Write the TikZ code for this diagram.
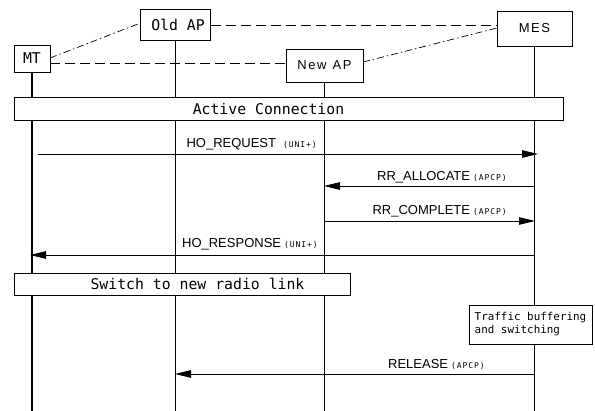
\documentclass[tikz,border=0pt]{standalone}
\usepackage{fontspec}
\newfontfamily\monof{DejaVu Sans Mono}
\newfontfamily\smallf{DejaVu Sans Mono}[LetterSpace=12]
\newfontfamily\helf{Liberation Sans}
\newfontfamily\helsp{Liberation Sans}[LetterSpace=12]
\usetikzlibrary{arrows.meta}
\newcommand{\bigmono}{\monof\fontsize{14.8}{16}\selectfont}
\newcommand{\helv}{\helf\fontsize{13}{15}\selectfont}
\newcommand{\helvsp}{\helsp\fontsize{13}{15}\selectfont}
\newcommand{\smallmono}{\smallf\fontsize{8}{9}\selectfont}
\begin{document}
\begin{tikzpicture}[x=1pt,y=-1pt,
  ent/.style={draw, line width=0.8pt, fill=white, inner sep=0pt, font=\bigmono},
  entsans/.style={ent, font=\helvsp},
  lifeline/.style={line width=1.4pt},
  band/.style={draw, fill=white, line width=0.8pt, inner sep=0pt, font=\bigmono},
  msg/.style={line width=0.8pt, -{Triangle[length=16pt,width=7.5pt]}},
  lbl/.style={anchor=base east, inner sep=0pt, font=\helv},
  dashl/.style={line width=0.7pt, dash pattern=on 10pt off 5pt},
  dashdot/.style={line width=0.7pt, dash pattern=on 7pt off 3pt on 1.5pt off 3pt}
]
\useasboundingbox (0,0) rectangle (595,411);
\coordinate (bot) at (0,411);

% entities
\node[ent, minimum width=36pt, minimum height=27pt] (mt) at (32,58.5) {MT};
\node[ent, minimum width=70pt, minimum height=31pt] (oap) at (175.5,24.5) {\hspace{5pt}Old AP};
\node[entsans, minimum width=77pt, minimum height=33pt] (nap) at (324.5,65.5) {New\hspace{6pt}AP};
\node[entsans, minimum width=75pt, minimum height=35pt] (mes) at (534.5,28.5) {MES};

% lifelines
\draw[lifeline] (mt.south) -- (mt.south |- bot);
\draw[lifeline] (oap.south) -- (oap.south |- bot);
\draw[lifeline] (nap.south) -- (nap.south |- bot);
\draw[lifeline] (mes.south) -- (mes.south |- bot);

% links between entities
\coordinate (mtr1) at (50,58);
\coordinate (oapl) at (140.5,23);
\draw[dashdot] (mtr1) -- (oapl);
\coordinate (mtr2) at (50,63);
\coordinate (napl) at (286,63);
\draw[dashl] (mtr2) -- (napl);
\coordinate (oapr) at (210.5,25);
\coordinate (mesl1) at (497,25);
\draw[dashl] (oapr) -- (mesl1);
\coordinate (napr) at (363,62);
\coordinate (mesl2) at (497,28);
\draw[dashdot] (napr) -- (mesl2);

% bands
\node[band, minimum width=549pt, minimum height=23pt] (ac) at (288.5,108.5) {Active Connection\kern40pt};
\node[band, minimum width=336pt, minimum height=22pt] (sw) at (182,284) {\kern31pt Switch to new radio link};
\node[band, minimum width=123pt, minimum height=39pt, align=left,
      font=\monof\fontsize{10.9}{13}\selectfont] (tb) at (530.5,324.5) {Traffic buffering\\and switching};

% messages
\coordinate (m1s) at (38,154);   \coordinate (m1e) at (538,154);
\draw[msg] (m1s) -- (m1e);
\node[lbl] (l1) at (317,148) {HO\_REQUEST\hspace{7pt}{\smallmono(UNI+)}};

\coordinate (m2s) at (534,186);  \coordinate (m2e) at (324,186);
\draw[msg] (m2s) -- (m2e);
\node[lbl] (l2) at (507,181) {RR\_ALLOCATE\hspace{3pt}{\smallmono(APCP)}};

\coordinate (m3s) at (325,221);  \coordinate (m3e) at (535,221);
\draw[msg] (m3s) -- (m3e);
\node[lbl] (l3) at (507,215) {RR\_COMPLETE\hspace{3pt}{\smallmono(APCP)}};

\coordinate (m4s) at (534,255);  \coordinate (m4e) at (30,255);
\draw[msg] (m4s) -- (m4e);
\node[lbl] (l4) at (318,248) {HO\_RESPONSE\hspace{3pt}{\smallmono(UNI+)}};

\coordinate (m5s) at (534,374);  \coordinate (m5e) at (175,374);
\draw[msg] (m5s) -- (m5e);
\node[lbl] (l5) at (485,369) {RELEASE\hspace{3pt}{\smallmono(APCP)}};
\end{tikzpicture}
\end{document}
